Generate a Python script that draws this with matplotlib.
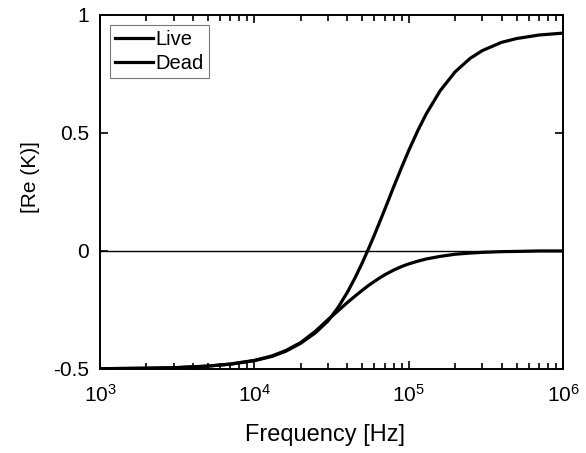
import numpy as np
import matplotlib
matplotlib.use("Agg")
import matplotlib.pyplot as plt
from matplotlib.ticker import LogLocator, FixedLocator

plt.rcParams['font.family'] = ['Liberation Sans', 'DejaVu Sans']
plt.rcParams['mathtext.fontset'] = 'custom'
plt.rcParams['mathtext.rm'] = 'Liberation Sans'
plt.rcParams['mathtext.it'] = 'Liberation Sans'

freq = [1e3, 2e3, 3e3, 5e3, 7e3, 1e4, 1.3e4, 1.6e4, 2e4, 2.5e4, 3e4, 3.5e4,
        4e4, 4.5e4, 5e4, 5.5e4, 6e4, 6.5e4, 7e4, 8e4, 9e4, 1e5, 1.15e5,
        1.3e5, 1.6e5, 2e5, 2.5e5, 3e5, 4e5, 5e5, 7e5, 1e6]
live = [-0.500, -0.498, -0.496, -0.489, -0.481, -0.466, -0.448, -0.426,
        -0.392, -0.347, -0.298, -0.239, -0.177, -0.114, -0.052, 0.009,
        0.067, 0.123, 0.175, 0.271, 0.353, 0.424, 0.511, 0.580, 0.678,
        0.758, 0.815, 0.848, 0.883, 0.899, 0.914, 0.922]
dead = [-0.500, -0.498, -0.496, -0.489, -0.480, -0.465, -0.446, -0.423,
        -0.389, -0.340, -0.292, -0.254, -0.220, -0.192, -0.168, -0.147,
        -0.130, -0.115, -0.102, -0.082, -0.067, -0.056, -0.044, -0.035,
        -0.024, -0.015, -0.010, -0.007, -0.004, -0.003, -0.001, -0.001]

fig = plt.figure(figsize=(5.86, 4.53), dpi=100)
ax = fig.add_axes([0.1706, 0.1861, 0.7902, 0.7814])

ax.axhline(0, color='black', lw=1.0, zorder=1)
ax.plot(freq, live, color='black', lw=2.3, label='Live')
ax.plot(freq, dead, color='black', lw=2.3, label='Dead')

ax.set_xscale('log')
ax.set_xlim(1e3, 1e6)
ax.set_ylim(-0.5, 1)
ax.yaxis.set_major_locator(FixedLocator([-0.5, 0, 0.5, 1]))
ax.set_yticklabels(['-0.5', '0', '0.5', '1'])
ax.xaxis.set_minor_locator(LogLocator(base=10, subs=np.arange(2, 10)))

ax.tick_params(which='both', direction='in', top=True, right=True,
               labelsize=15, width=1.2)
ax.tick_params(axis='y', pad=8)
ax.tick_params(axis='x', pad=11)
ax.tick_params(which='major', length=6)
ax.tick_params(which='minor', length=4)
for s in ax.spines.values():
    s.set_linewidth(1.4)

ax.set_xlabel('Frequency [Hz]', fontsize=17)
ax.set_ylabel('[Re (K)]', fontsize=15)
ax.xaxis.set_label_coords(0.487, -0.155)
ax.yaxis.set_label_coords(-0.13, 0.54)

leg = ax.legend(loc='upper left', fontsize=14.5, frameon=True, fancybox=False,
                edgecolor='#555555', handlelength=1.9, handletextpad=0.1,
                borderaxespad=0.5, labelspacing=0.25, borderpad=0.25)
leg.get_frame().set_linewidth(0.8)

fig.savefig('out.png', dpi=100)
